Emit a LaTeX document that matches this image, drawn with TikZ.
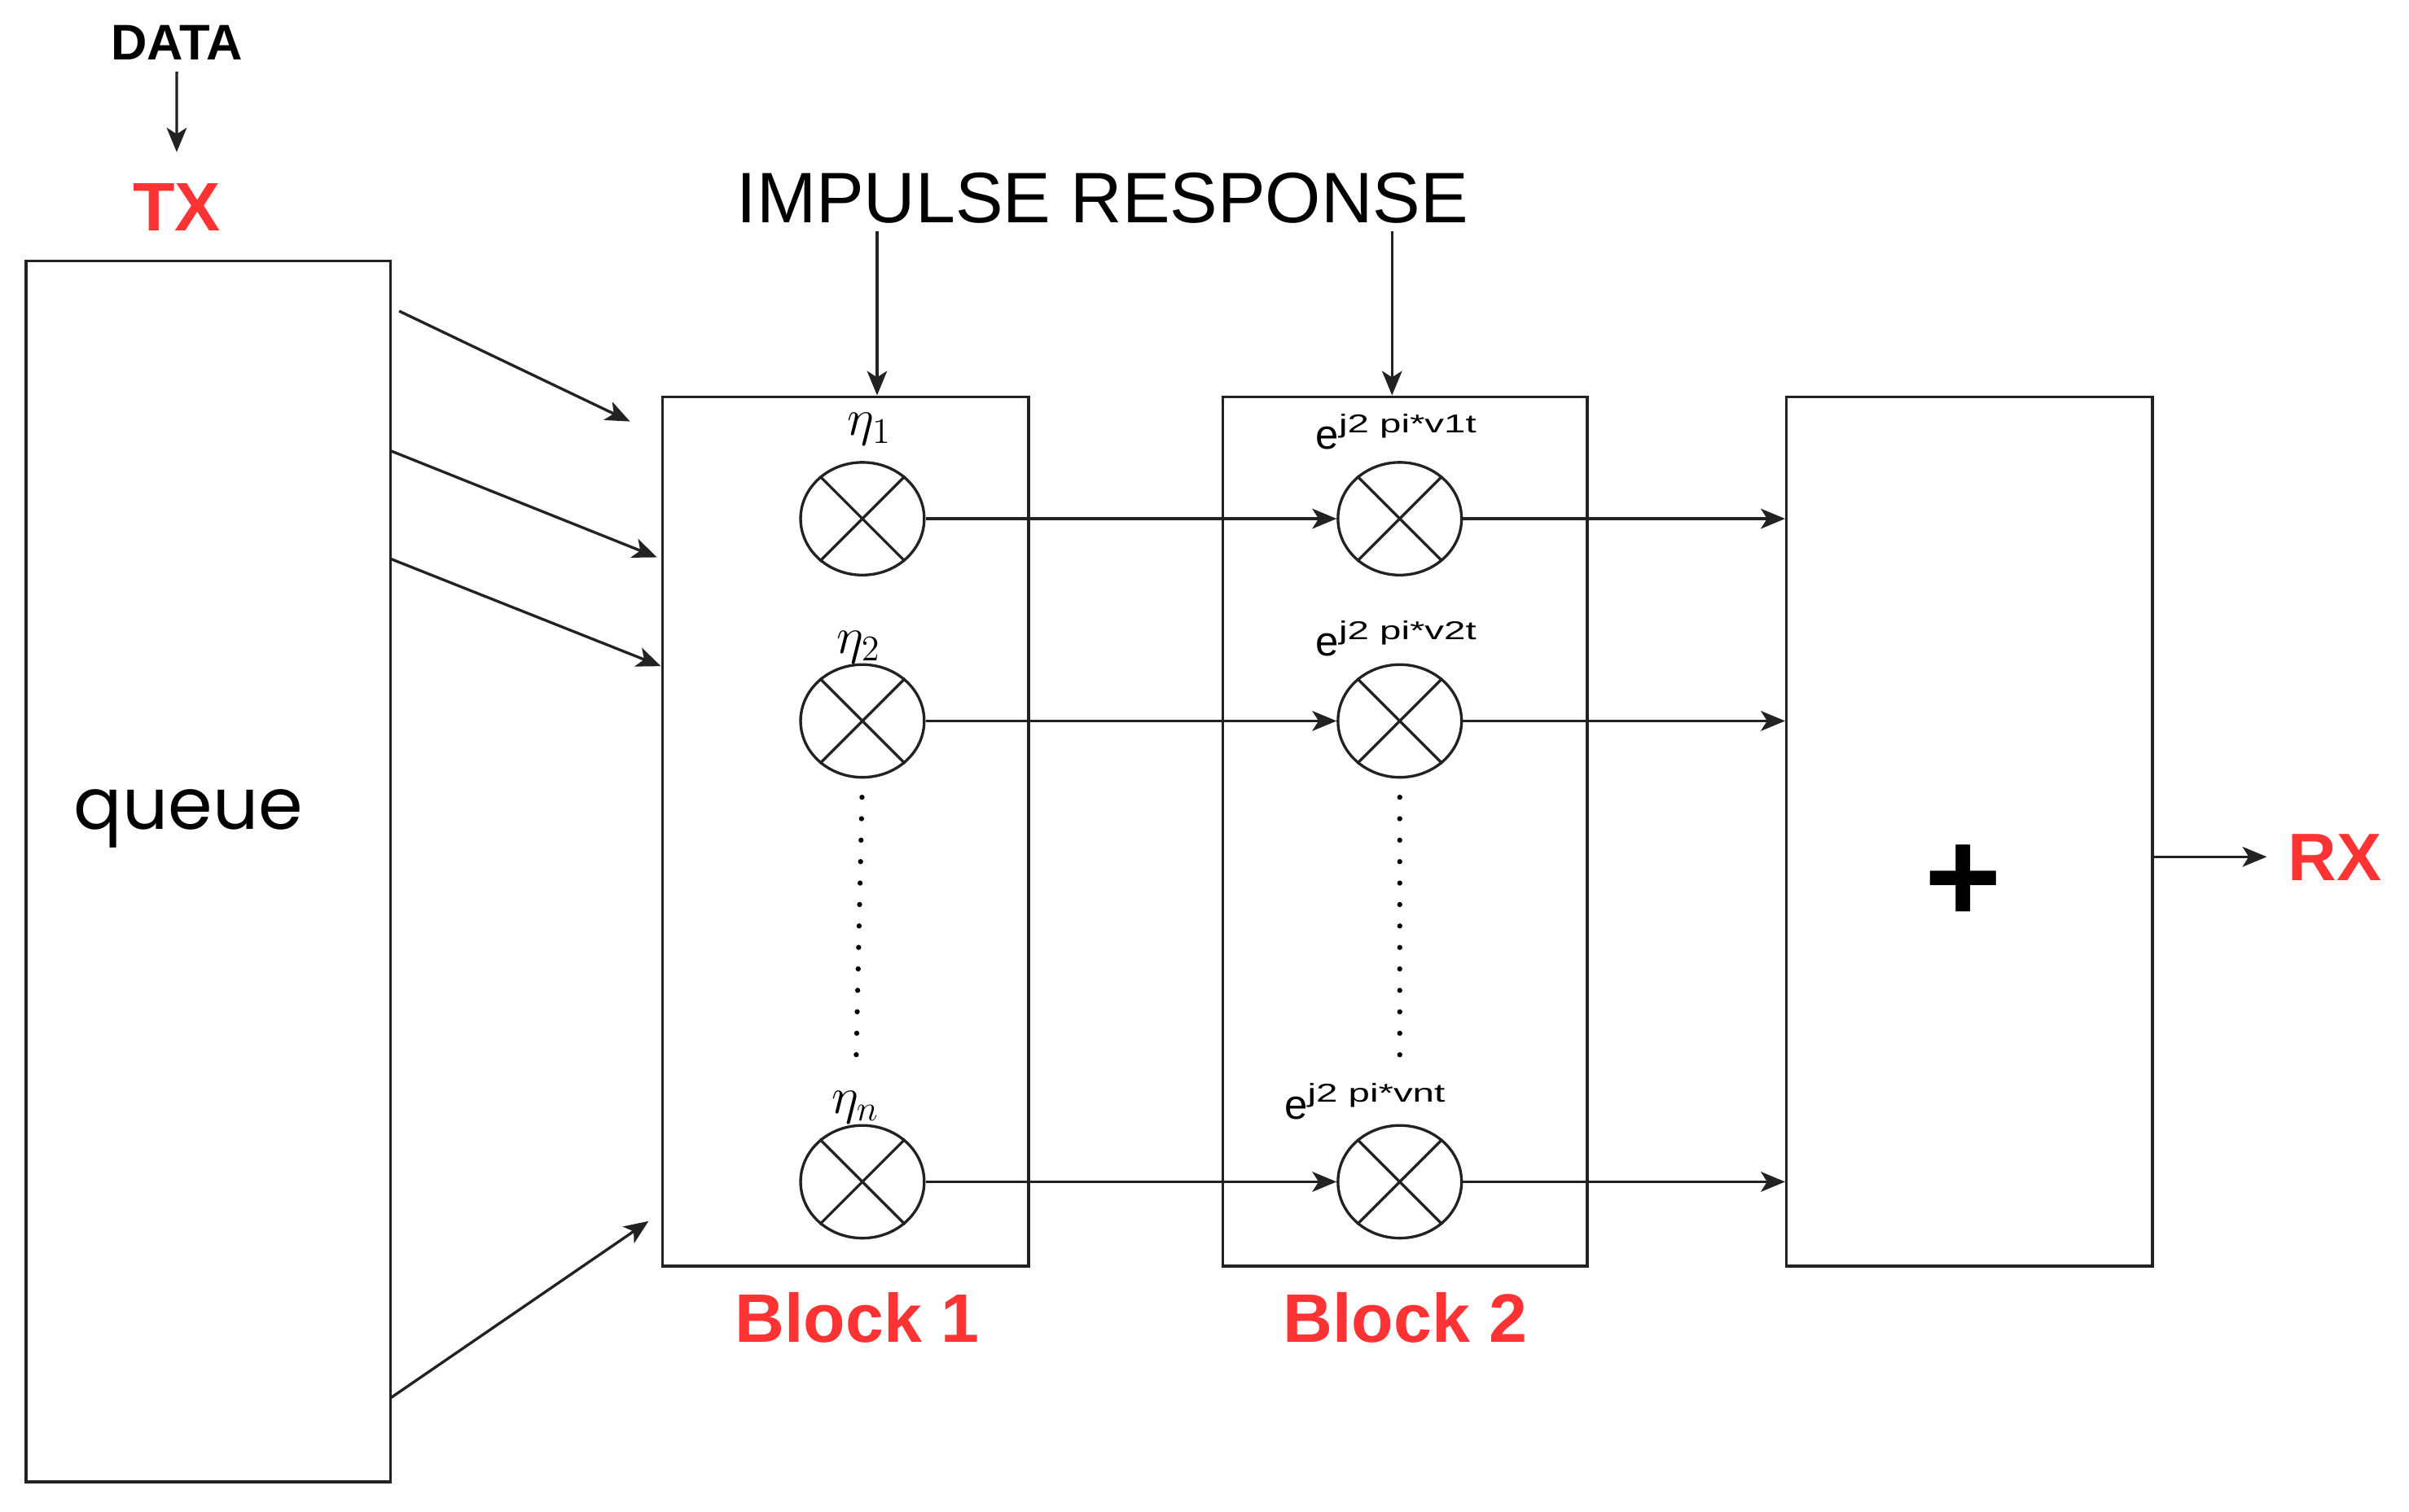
\RequirePackage{fix-cm}
\documentclass[tikz,border=0pt]{standalone}
\usepackage{fontspec}
\setmainfont{Liberation Sans}
\newfontfamily\poppins{Poppins}
\usepackage{graphicx}
\usetikzlibrary{shapes.geometric,arrows.meta,fit}
\definecolor{lbl}{HTML}{FF3333}
\definecolor{ln}{HTML}{222222}
\newcommand{\fs}[1]{\fontsize{#1}{#1}\selectfont}
\newcommand{\expo}[1]{{\fs{14.5pt}e}\raisebox{5.9pt}{\scalebox{1.5}[1]{\fs{9pt}j2 pi*#1}}}
\begin{document}
\begin{tikzpicture}[x=0.01896cm,y=-0.01896cm,
  box/.style={draw=ln,line width=1pt,inner sep=0pt},
  mult/.style={draw=ln,line width=0.95pt,ellipse,minimum width=43.2pt,minimum height=39.4pt,inner sep=0pt},
  arr/.style={draw=ln,line width=0.95pt,-{Stealth[length=8.5pt,width=7pt,inset=2.2pt]}},
  txt/.style={inner sep=0pt,anchor=base},
  redlbl/.style={txt,text=lbl,font=\bfseries\fs{24pt}},
  dotline/.style={draw=black,line width=1.8pt,dash pattern=on 0pt off 7.5pt,line cap=round}]
\path[use as bounding box] (0,0) rectangle (1560.1,979.4);

% boxes
\node[box,fit={(17,169) (253,960)}] (queue) {};
\node[box,fit={(429,257) (666,820)}] (b1) {};
\node[box,fit={(792,257) (1028,820)}] (b2) {};
\node[box,fit={(1157,257) (1394,820)}] (sum) {};

% texts
\node[txt,font=\bfseries\fs{17.5pt}] (data) at (114.5,38.9) {DATA};
\node[redlbl] (tx) at (114.4,149.5) {TX};
\node[txt,font=\poppins\fs{25pt}] (q) at (122,537) {queue};
\node[txt,font=\fs{25pt}] (imp) at (714,144) {IMPULSE RESPONSE};
\node[redlbl] (bl1) at (555,869.6) {Block 1};
\node[redlbl] (bl2) at (910,869.6) {Block 2};
\node[redlbl,font=\bfseries\fs{23.5pt},anchor=base west] (rx) at (1481.5,570.5) {RX};
\node[inner sep=0pt,font=\bfseries\fs{46pt}] (plus) at (1271.5,572.5) {+};

% multipliers
\node[mult] (m11) at (558.5,336) {};
\node[mult] (m21) at (558.5,467) {};
\node[mult] (m31) at (558.5,765.5) {};
\node[mult] (m12) at (906.5,336) {};
\node[mult] (m22) at (906.5,467) {};
\node[mult] (m32) at (906.5,765.5) {};
\foreach \n in {m11,m21,m31,m12,m22,m32}
  \draw[ln,line width=0.95pt] (\n.45) -- (\n.225) (\n.135) -- (\n.315);

% labels of multipliers
\node[txt,font=\fs{18pt}] (eta1) at (563,282) {$\eta_1$};
\node[txt,font=\fs{18pt}] (eta2) at (556,423) {$\eta_2$};
\node[txt,font=\fs{18pt}] (etan) at (554,721) {$\eta_n$};
\node[txt,anchor=base west] (ex1) at (851.8,291) {\expo{v1t}};
\node[txt,anchor=base west] (ex2) at (851.8,425) {\expo{v2t}};
\node[txt,anchor=base west] (exn) at (831.5,724.7) {\expo{vnt}};

% dotted lines
\draw[dotline,shorten <=6.5pt,shorten >=5pt] (m21.south) -- (etan.north);
\draw[dotline,shorten <=6.5pt] (m22.south) -- (m22.south |- 0,696);

% DATA -> TX
\draw[arr,shorten <=3.8pt,shorten >=10.8pt] (data.south) -- (tx.north);

% impulse response arrows
\coordinate (ir1) at (568,150);
\coordinate (ir2) at (901.5,150);
\draw[arr] (ir1) -- (ir1 |- b1.north);
\draw[arr] (ir2) -- (ir2 |- b2.north);

% queue arrows
\coordinate (q1s) at (258.5,201.5); \coordinate (q1e) at (408,273);
\coordinate (q2s) at (253,292);     \coordinate (q2e) at (425.5,361);
\coordinate (q3s) at (253,362);     \coordinate (q3e) at (428,431.5);
\coordinate (q4s) at (253,905.5);   \coordinate (q4e) at (420,791);
\draw[arr] (q1s) -- (q1e);
\draw[arr] (q2s) -- (q2e);
\draw[arr] (q3s) -- (q3e);
\draw[arr] (q4s) -- (q4e);

% row arrows
\draw[arr] (m11.east) -- (m12.west);
\draw[arr] (m21.east) -- (m22.west);
\draw[arr] (m31.east) -- (m32.west);
\draw[arr] (m12.east) -- (m12.east -| sum.west);
\draw[arr] (m22.east) -- (m22.east -| sum.west);
\draw[arr] (m32.east) -- (m32.east -| sum.west);

% output
\coordinate (rxa) at (1468,555);
\draw[arr] (sum.east |- rxa) -- (rxa);
\end{tikzpicture}
\end{document}
